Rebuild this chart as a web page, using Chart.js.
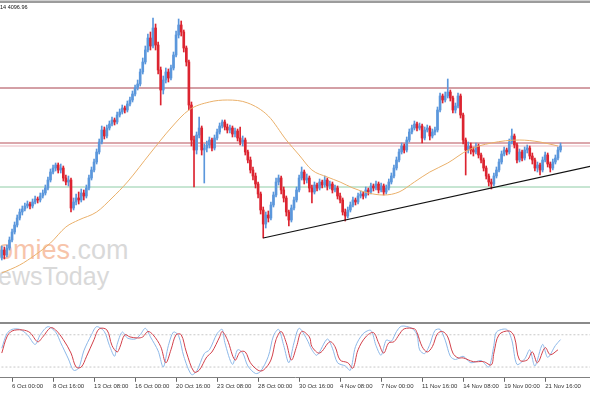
<!DOCTYPE html>
<html>
<head>
<meta charset="utf-8">
<script src="https://cdn.jsdelivr.net/npm/chart.js@4.4.0/dist/chart.umd.min.js"></script>
<style>
body { margin: 0; background: #fff; width: 590px; height: 393px; overflow: hidden; position: relative; font-family: "Liberation Sans", Arial, sans-serif; }
#topline { position: absolute; left: 0; top: 0; width: 590px; height: 1px; background: #d0d0d0; border-bottom: 2px solid #9c9c9c; }
#info { position: absolute; left: 0; top: 4px; font-size: 5.5px; color: #111; }
.wm { position: absolute; left: -2px; white-space: nowrap; line-height: 1; }
#wm1 { top: 237px; font-size: 27px; color: #d9d9d9; }
#wm1 span { color: #f7c4aa; }
#wm2 { top: 264px; font-size: 25px; color: #d9d9d9; }
#main { position: absolute; left: 0; top: 4px; }
#sep { position: absolute; left: 0; top: 322px; width: 590px; height: 2px; background: #8a8a8a; }
#stoch { position: absolute; left: 0; top: 324px; }
</style>
</head>
<body>
<div id="topline"></div>
<div class="wm" id="wm1"><span>omies</span>.com</div>
<div class="wm" id="wm2">ewsToday</div>
<canvas id="main" width="590" height="317"></canvas>
<div id="info">14 4096.96</div>
<div id="sep"></div>
<canvas id="stoch" width="590" height="67"></canvas>
<script>
// H4 candles, index 0 = first bar on screen
const tickIdx = [4, 20, 36, 52, 68, 84, 100, 116, 132, 148, 164, 180, 196, 212];
const tickLabels = ['6 Oct 00:00', '8 Oct 16:00', '13 Oct 08:00', '16 Oct 00:00', '20 Oct 16:00', '23 Oct 08:00', '28 Oct 00:00',
  '30 Oct 16:00', '4 Nov 08:00', '7 Nov 00:00', '11 Nov 16:00', '14 Nov 08:00', '19 Nov 00:00', '21 Nov 16:00'];

const firstOpen = 3992;
const closes = [
  4000,3995,4002,4010,4018,4025,4032,4038,4041,4044,
  4046,4044,4048,4051,4050,4054,4057,4062,4070,4078,
  4082,4085,4080,4082,4072,4068,4070,4042,4048,4052,
  4050,4057,4054,4062,4072,4080,4088,4098,4108,4120,
  4114,4122,4126,4130,4128,4135,4138,4142,4140,4146,
  4150,4156,4162,4166,4178,4188,4200,4212,4204,4222,
  4205,4180,4160,4170,4178,4172,4182,4195,4215,4225,
  4218,4202,4188,4145,4110,4100,4115,4122,4100,4102,
  4105,4110,4102,4112,4118,4124,4128,4123,4120,4122,
  4116,4119,4112,4108,4110,4098,4090,4080,4074,4066,
  4056,4040,4026,4035,4032,4045,4055,4068,4072,4060,
  4052,4038,4030,4042,4050,4060,4072,4078,4070,4072,
  4062,4058,4065,4062,4068,4065,4070,4064,4066,4060,
  4062,4054,4050,4038,4034,4040,4045,4050,4048,4054,
  4056,4054,4060,4058,4064,4062,4066,4060,4064,4058,
  4062,4068,4074,4082,4090,4098,4104,4100,4110,4118,
  4122,4126,4122,4124,4112,4120,4122,4114,4118,4120,
  4140,4154,4150,4154,4158,4152,4140,4144,4154,4135,
  4110,4100,4104,4100,4098,4104,4095,4090,4082,4074,
  4068,4066,4074,4080,4088,4096,4100,4098,4108,4114,
  4105,4090,4098,4092,4100,4102,4094,4090,4082,4085,
  4080,4090,4095,4086,4082,4088,4092,4100,4104
];
const highs = [
  4004,4003,4005,4013,4021,4028,4035,4041,4044,4047,
  4049,4048,4051,4054,4053,4057,4060,4065,4073,4081,
  4085,4087,4087,4086,4084,4075,4074,4072,4052,4056,
  4058,4061,4060,4065,4075,4083,4091,4101,4111,4124,
  4123,4125,4129,4133,4132,4138,4141,4145,4144,4149,
  4153,4159,4165,4170,4181,4192,4204,4216,4218,4232,
  4226,4208,4183,4174,4182,4181,4185,4198,4219,4231,
  4229,4220,4204,4190,4148,4114,4118,4133,4124,4106,
  4109,4113,4112,4115,4121,4127,4130,4130,4126,4125,
  4124,4122,4121,4123,4114,4112,4100,4093,4083,4077,
  4068,4058,4043,4038,4039,4048,4058,4072,4075,4074,
  4063,4054,4040,4045,4053,4063,4075,4083,4080,4076,
  4074,4065,4068,4067,4071,4070,4074,4072,4069,4068,
  4065,4064,4057,4052,4041,4043,4048,4053,4052,4057,
  4059,4058,4063,4062,4067,4066,4069,4068,4067,4066,
  4065,4071,4077,4085,4093,4101,4107,4106,4113,4121,
  4125,4129,4128,4127,4126,4123,4125,4124,4121,4123,
  4143,4157,4156,4158,4171,4160,4154,4147,4157,4156,
  4137,4112,4108,4107,4103,4107,4106,4097,4092,4084,
  4076,4071,4077,4083,4091,4099,4103,4102,4111,4121,
  4116,4107,4101,4100,4103,4105,4104,4097,4092,4088,
  4087,4093,4098,4097,4088,4091,4095,4103,4107
];
const lows = [
  3990,3991,3993,4000,4008,4016,4023,4030,4035,4039,
  4042,4041,4042,4046,4047,4048,4052,4055,4060,4068,
  4076,4079,4077,4077,4069,4065,4064,4038,4040,4045,
  4046,4048,4050,4052,4060,4070,4078,4086,4096,4106,
  4111,4112,4120,4124,4125,4126,4133,4136,4137,4138,
  4144,4148,4154,4160,4164,4176,4186,4198,4200,4202,
  4200,4176,4145,4156,4167,4168,4170,4180,4193,4212,
  4214,4198,4184,4140,4104,4063,4096,4112,4095,4067,
  4098,4102,4099,4100,4110,4116,4122,4120,4117,4117,
  4113,4113,4109,4105,4104,4095,4087,4077,4070,4062,
  4052,4036,4012,4022,4028,4030,4043,4053,4065,4056,
  4048,4034,4024,4028,4040,4048,4058,4070,4066,4067,
  4058,4047,4056,4059,4060,4062,4063,4060,4061,4057,
  4058,4051,4047,4035,4029,4032,4038,4043,4045,4046,
  4052,4051,4052,4055,4056,4059,4060,4057,4058,4055,
  4056,4060,4066,4072,4080,4088,4096,4097,4098,4108,
  4116,4120,4119,4120,4107,4110,4118,4110,4112,4115,
  4118,4138,4147,4148,4152,4149,4137,4137,4142,4132,
  4106,4075,4097,4096,4094,4096,4092,4087,4079,4071,
  4064,4061,4064,4072,4078,4086,4094,4095,4096,4106,
  4102,4087,4088,4089,4090,4097,4091,4086,4079,4078,
  4075,4078,4088,4083,4078,4080,4086,4090,4098
];

// moving average (orange), read at sparse bars
const maIdx = [0, 7, 13, 19, 25, 30, 37, 43, 49, 58, 66, 73, 81, 88, 96, 104, 111, 116, 121, 127, 132, 137, 143, 149, 155, 161, 167, 174, 182, 191, 202, 210, 217];
const maVals = [3977, 3985, 3995, 4007, 4023, 4030, 4038, 4052, 4068, 4097, 4122, 4140, 4148, 4150, 4147, 4134, 4110, 4095, 4080, 4073, 4068, 4062, 4057, 4055, 4058, 4068, 4078, 4087, 4100, 4107, 4110, 4108, 4104];

const levels = [4162, 4107, 4104, 4063];
const levelColors = ['#a8404c', '#b8505a', '#ecb8c0', '#8fcca6'];
const trendIdx = [102, 230];
const trendVals = [4012, 4084];

// stochastic
const dIdx = [0,2,4,8,11,14,16,19,21,24,27,29,31,33,36,38,41,43,45,46,48,50,53,55,57,59,62,64,66,68,70,72,75,77,80,82,85,86,88,91,93,95,97,100,102,105,107,109,111,113,115,117,120,121,124,128,130,132,135,137,139,142,145,147,149,151,153,155,157,161,162,164,166,168,170,172,174,176,178,180,184,188,191,192,194,198,200,202,205,207,209,212,214,217];
const dVals = [46,76,87,89,84,67,76,93,89,71,46,20,20,39,71,91,89,60,48,56,80,76,74,76,86,80,58,28,52,80,80,48,11,14,39,48,76,86,71,33,48,48,28,14,14,33,71,86,65,33,58,86,76,58,46,67,58,33,28,18,52,76,84,65,46,65,67,80,91,91,84,58,48,58,82,86,76,46,37,37,30,30,24,46,80,87,76,33,33,48,28,56,43,52];
const kIdx = [0,2,4,7,10,13,15,18,21,23,26,28,30,32,35,37,40,42,44,45,47,49,52,54,56,58,61,63,65,67,69,71,74,76,79,81,84,86,87,90,92,94,96,99,101,104,106,108,110,112,114,116,119,121,123,127,129,131,134,136,138,141,144,146,148,150,152,154,156,160,162,163,165,167,169,171,173,175,177,180,183,187,190,192,193,197,199,201,204,206,208,211,213,216,218];
const kVals = [55,82,90,90,80,62,80,95,85,65,35,14,18,50,80,95,86,60,40,62,85,74,72,80,92,76,50,20,60,85,78,40,6,12,45,52,82,90,66,25,52,46,22,8,12,40,78,90,60,28,65,92,72,52,42,72,55,28,22,14,58,82,88,60,42,70,68,86,96,92,80,52,45,62,88,90,70,40,34,40,28,32,20,60,85,90,70,25,35,52,22,62,38,60,71];
const stochLevels = [80, 20];

const xMin = -0.7, xMax = 229.5;
const opens = closes.map((c, i) => i === 0 ? firstOpen : closes[i - 1]);
const candleColors = closes.map((c, i) => c >= opens[i] ? '#5b97dc' : '#dc2430');
const pts = (xs, ys) => xs.map((x, i) => ({ x: x, y: ys[i] }));

const levelSets = levels.map((v, i) => ({
  type: 'line',
  data: [{ x: xMin - 1, y: v }, { x: xMax + 1, y: v }],
  borderColor: levelColors[i],
  borderWidth: 1,
  pointRadius: 0
}));

new Chart(document.getElementById('main'), {
  type: 'bar',
  data: {
    datasets: [
      { type: 'line', data: pts(trendIdx, trendVals), borderColor: '#111', borderWidth: 1.2, pointRadius: 0 },
      { type: 'line', data: pts(maIdx, maVals), borderColor: '#eab06a', borderWidth: 1, pointRadius: 0, cubicInterpolationMode: 'monotone' },
      { data: closes.map((c, i) => ({ x: i, y: [opens[i], c] })), backgroundColor: candleColors, barThickness: 2, grouped: false, minBarLength: 1 },
      { data: closes.map((c, i) => ({ x: i, y: [lows[i], highs[i]] })), backgroundColor: candleColors, barThickness: 1, grouped: false },
      ...levelSets
    ]
  },
  options: {
    responsive: false,
    animation: false,
    layout: { padding: 0 },
    plugins: { legend: { display: false }, tooltip: { enabled: false } },
    scales: {
      x: { type: 'linear', min: xMin, max: xMax, offset: false, display: false },
      y: { min: 3929, max: 4246, display: false }
    }
  }
});

new Chart(document.getElementById('stoch'), {
  type: 'line',
  data: {
    datasets: [
      { data: pts(dIdx, dVals), borderColor: '#d2404a', borderWidth: 1, pointRadius: 0, tension: 0.35 },
      { data: pts(kIdx, kVals), borderColor: '#8db8e8', borderWidth: 1, pointRadius: 0, tension: 0.3 },
      ...stochLevels.map(v => ({
        data: [{ x: xMin - 1, y: v }, { x: xMax + 1, y: v }],
        borderColor: '#c8c8c8', borderWidth: 1, borderDash: [2, 2], pointRadius: 0
      }))
    ]
  },
  options: {
    responsive: false,
    animation: false,
    layout: { padding: 0 },
    plugins: { legend: { display: false }, tooltip: { enabled: false } },
    scales: {
      x: {
        type: 'linear', min: xMin, max: xMax,
        afterBuildTicks: s => { s.ticks = tickIdx.map(v => ({ value: v })); },
        ticks: {
          autoSkip: false, maxRotation: 0, align: 'start', padding: 1, color: '#333',
          font: { family: 'Liberation Sans', size: 6 },
          callback: v => tickLabels[tickIdx.indexOf(v)]
        },
        grid: { drawOnChartArea: false, drawTicks: true, tickLength: 4, color: '#666' },
        border: { display: true, color: '#808080' }
      },
      y: { min: 0, max: 100, display: false }
    }
  }
});
</script>
</body>
</html>
